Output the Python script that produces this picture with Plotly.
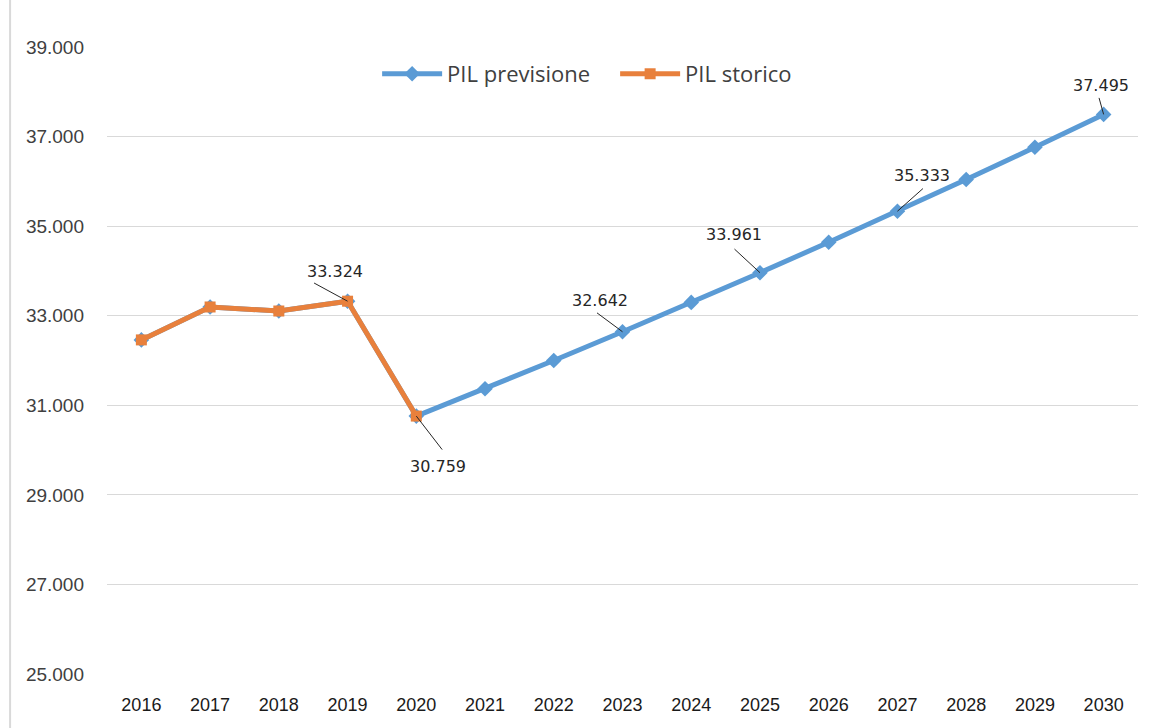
import plotly.graph_objects as go

# GDP series (thousands of euro per capita), historical and forecast
years = [str(y) for y in range(2016, 2031)]
storico_years = years[:5]
storico = [32460, 33195, 33105, 33324, 30759]
previsione_years = years
previsione = [32460, 33195, 33105, 33324, 30759,
              31370, 32000, 32642, 33297, 33961,
              34641, 35333, 36040, 36760, 37495]

# labelled points: year, value, leader-line tail offset, text offset (px)
label_years = ["2019", "2020", "2023", "2025", "2027", "2030"]
label_values = [33324, 30759, 32642, 33961, 35333, 37495]
tail_offsets = [(-35, -19), (27, 35), (-27, -20), (-27, -25), (27, -24), (-5, -18)]
text_offsets = [(-13, -30), (22, 50), (-23, -31), (-26, -38), (25, -36), (-3, -29)]

y_ticks = list(range(25000, 39001, 2000))

BLUE = "#5B9BD5"
ORANGE = "#E8803C"
GRID = "#D9D9D9"


def it_num(v):
    return f"{v:,}".replace(",", ".")


fig = go.Figure()

fig.add_trace(go.Scatter(
    x=previsione_years, y=previsione, name="PIL previsione",
    mode="lines+markers",
    line=dict(color=BLUE, width=5),
    marker=dict(symbol="diamond", size=12, color=BLUE),
))
fig.add_trace(go.Scatter(
    x=storico_years, y=storico, name="PIL storico",
    mode="lines+markers",
    line=dict(color=ORANGE, width=5),
    marker=dict(symbol="square", size=11, color=ORANGE),
))

for yr, val, (ax, ay), (tx, ty) in zip(label_years, label_values, tail_offsets, text_offsets):
    xi = years.index(yr)  # category index on the x axis
    # leader line
    fig.add_annotation(
        x=xi, y=val, text="", showarrow=True, arrowhead=0,
        arrowwidth=1, arrowcolor="#262626", ax=ax, ay=ay, standoff=0,
    )
    # value label
    fig.add_annotation(
        x=xi, y=val, text=it_num(val), showarrow=False,
        xshift=tx, yshift=-ty,
        font=dict(family="DejaVu Sans", size=16, color="#262626"),
    )

# thin frame line at the left edge
fig.add_shape(type="line", xref="paper", yref="paper",
              x0=-0.094, x1=-0.094, y0=-0.1, y1=1.1,
              line=dict(color=GRID, width=2))

fig.update_layout(
    width=1154, height=728,
    margin=dict(l=107, r=16, t=47, b=54),
    paper_bgcolor="white", plot_bgcolor="white",
    separators=",.",
    showlegend=True,
    legend=dict(
        orientation="h", x=0.262, y=0.957, xanchor="left", yanchor="middle",
        font=dict(family="Open Sans", size=22, color="#404040"),
        bgcolor="rgba(0,0,0,0)", itemwidth=60,
        entrywidth=163, traceorder="normal",
    ),
    xaxis=dict(
        type="category", categoryorder="array", categoryarray=years,
        range=[-0.5, len(years) - 0.5],
        showgrid=False, showline=False, zeroline=False,
        ticks="", ticklabelstandoff=18,
        tickfont=dict(family="Liberation Sans", size=18, color="#1a1a1a"),
    ),
    yaxis=dict(
        range=[25000, 39000], tickvals=y_ticks, tickformat=",d",
        showgrid=True, gridcolor=GRID, gridwidth=1,
        zeroline=False, showline=False, ticks="",
        ticklabelstandoff=22,
        tickfont=dict(family="Liberation Sans", size=19, color="#404040"),
    ),
)

fig.write_html("out.html")
